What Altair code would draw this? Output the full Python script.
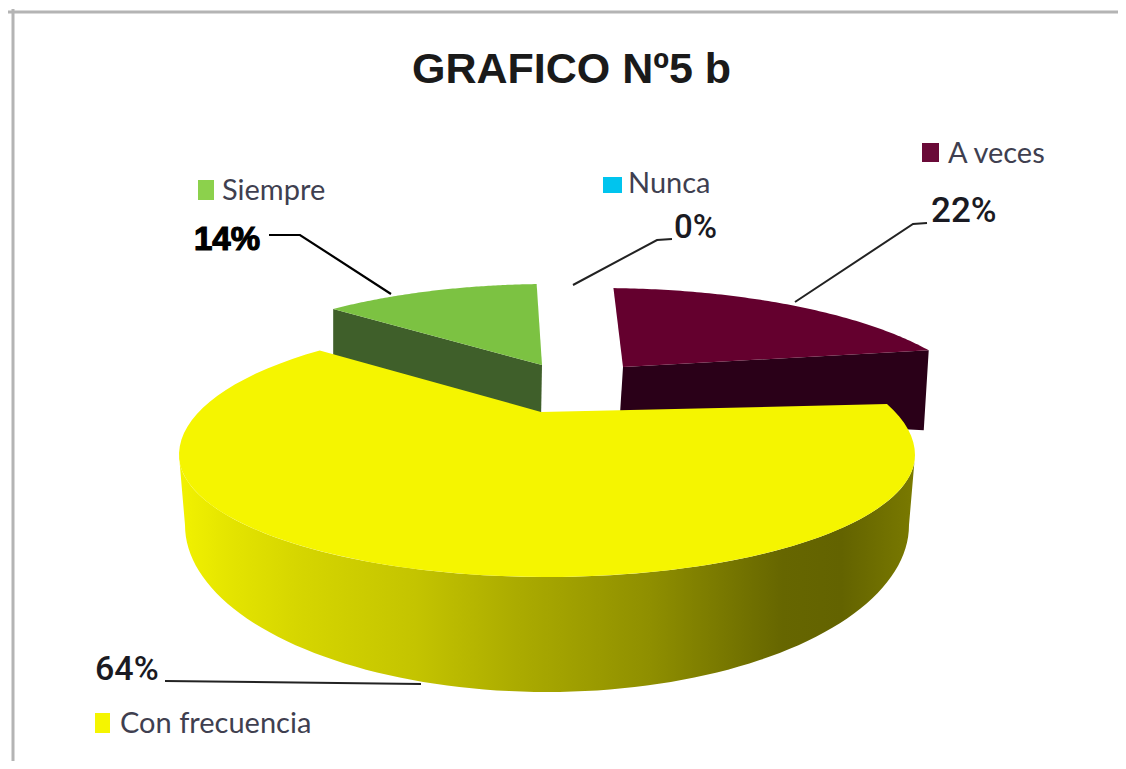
import math
import altair as alt
import pandas as pd

# ---- chart values -------------------------------------------------------
categories = ["Siempre", "Nunca", "A veces", "Con frecuencia"]
shares = [14, 0, 22, 64]
colors = ["#7CC242", "#00C4EE", "#64002E", "#F5F500"]
wall_colors = ["#3F5F2A", "#00708A", "#2A0018", None]

# ---- geometry of the tilted, exploded pie ------------------------------
geometry = {
    "Siempre": dict(apex=(542, 365), centre=(550, 414), a=368, b=130, start=233.9, stretch=0.675),
    "A veces": dict(apex=(623, 367), centre=(600, 418), a=385, b=130, start=272.0, stretch=0.715),
    "Con frecuencia": dict(apex=(541, 412), centre=(547, 455), a=368, b=133, b_front=122, start=-22.5, stretch=1.104),
}
foot = dict(centre=(547, 525), a=362, b=167)
wall_stops = [(0.0, "#F2F200"), (0.07, "#E4E400"), (0.16, "#D6D600"), (0.32, "#C4C400"),
              (0.46, "#ABAB00"), (0.64, "#8F8F00"), (0.82, "#666600"), (0.90, "#636300"), (1.0, "#7A7A00")]


def rim(g, phi):
    t = math.radians(phi)
    s = math.sin(t)
    b = g.get("b_front", g["b"]) if s > 0 else g["b"]
    return g["centre"][0] + g["a"] * math.cos(t), g["centre"][1] + b * s


def sweep(start, end, n=90):
    return [start + (end - start) * i / n for i in range(n + 1)]


def frame(points):
    return pd.DataFrame([{"x": p[0], "y": p[1], "i": i} for i, p in enumerate(points)])


X = alt.X("x:Q", scale=alt.Scale(domain=[8, 1118], padding=0, nice=False, zero=False), axis=None)
Y = alt.Y("y:Q", scale=alt.Scale(domain=[761, 8], padding=0, nice=False, zero=False), axis=None)


def polygon(points, fill):
    return alt.Chart(frame(points)).mark_line(
        interpolate="linear-closed", fill=fill, strokeWidth=0, clip=False
    ).encode(x=X, y=Y, order="i:Q")


def polyline(points, width=2, color="#111111"):
    return alt.Chart(frame(points)).mark_line(
        stroke=color, strokeWidth=width
    ).encode(x=X, y=Y, order="i:Q")


def text(label, x, y, size, font, color="#222222", weight="normal", stroke=None):
    kw = dict(stroke=stroke, strokeWidth=1.2) if stroke else {}
    return alt.Chart(pd.DataFrame([{"x": x, "y": y, "t": label}])).mark_text(
        align="left", baseline="alphabetic", fontSize=size, font=font,
        color=color, fontWeight=weight, **kw
    ).encode(x=X, y=Y, text="t:N")


def swatch(x, x2, y, y2, color):
    return alt.Chart(pd.DataFrame([{"x": x, "x2": x2, "y": y, "y2": y2}])).mark_rect(
        color=color
    ).encode(x=X, x2="x2:Q", y=Y, y2="y2:Q")


def slice_top(name):
    g = geometry[name]
    share = shares[categories.index(name)]
    angles = sweep(g["start"], g["start"] + share * 3.6 * g["stretch"])
    return [g["apex"]] + [rim(g, p) for p in angles]


top = {n: slice_top(n) for n in geometry}
col = dict(zip(categories, colors))
wall = dict(zip(categories, wall_colors))

# green wall: left rim corner down to the apex
g_corner = top["Siempre"][1]
g_apex = geometry["Siempre"]["apex"]
green_wall = [g_corner, (g_corner[0], g_corner[1] + 50), (g_apex[0] - 1, g_apex[1] + 56), g_apex]

# maroon wall: apex to right rim corner
m_corner = top["A veces"][-1]
m_apex = geometry["A veces"]["apex"]
maroon_wall = [m_apex, (m_apex[0] - 3, m_apex[1] + 47), (m_corner[0] - 5, m_corner[1] + 80), m_corner]

# yellow wall
y_geo = geometry["Con frecuencia"]
y_upper = [rim(y_geo, p) for p in sweep(0, 180)]


def foot_point(phi):
    t = math.radians(phi)
    return foot["centre"][0] + foot["a"] * math.cos(t), foot["centre"][1] + foot["b"] * math.sin(t)


y_lower = [foot_point(p) for p in sweep(180, 0)]
yellow_wall = y_upper + y_lower
wall_gradient = alt.Gradient(
    gradient="linear", x1=0, x2=1, y1=0, y2=0,
    stops=[alt.GradientStop(offset=o, color=c) for o, c in wall_stops],
)

SANS = "Liberation Sans"
BODY = "Lato"
NUM = "Roboto"

layers = [
    # frame lines of the screenshot
    polyline([(8, 12), (1118, 12)], 3, "#B4B4B4"),
    polyline([(13, 9), (13, 761)], 3, "#B4B4B4"),
    text("GRAFICO Nº5 b", 412, 83, 43, SANS, "#1A1A1A", "bold"),
    polygon(maroon_wall, wall["A veces"]),
    polygon(top["A veces"], col["A veces"]),
    polygon(green_wall, wall["Siempre"]),
    polygon(top["Siempre"], col["Siempre"]),
    polygon(yellow_wall, wall_gradient),
    polygon(top["Con frecuencia"], col["Con frecuencia"]),
    # leaders
    polyline([(269, 235), (300, 235), (391, 294)], 2.2, "#000000"),
    polyline([(573, 285), (657, 240), (672, 239)], 2, "#222222"),
    polyline([(795, 302), (913, 224), (927, 223)], 2, "#222222"),
    polyline([(165, 681), (421, 684)], 2, "#222222"),
    # value labels
    text(f"{shares[0]}%", 194, 250, 33, SANS, "#000000", "bold", stroke="#000000"),
    text(f"{shares[1]}%", 674, 238, 33, NUM, "#1A1A22", 500),
    text(f"{shares[2]}%", 931, 222, 35, NUM, "#1A1A22", 500),
    text(f"{shares[3]}%", 95, 680, 34, NUM, "#1A1A22", 500),
    # legend
    swatch(198, 214, 180, 200, "#8CD14C"),
    text(categories[0], 222, 200, 29, BODY, "#3F3F50"),
    swatch(603, 622, 177, 193, colors[1]),
    text(categories[1], 628, 193, 29, BODY, "#3F3F50"),
    swatch(922, 939, 143, 162, "#6A0A38"),
    text(categories[2], 948, 163, 29, BODY, "#3F3F50"),
    swatch(95, 110, 713, 733, "#F5F500"),
    text(categories[3], 120, 733, 29, BODY, "#3F3F50"),
]

chart = alt.layer(*layers).properties(
    width=1110, height=753, padding=0, background="white",
    autosize=alt.AutoSizeParams(type="none"),
).configure_view(stroke=None)

chart.save("out.html", embed_options={"renderer": "svg", "actions": False})
